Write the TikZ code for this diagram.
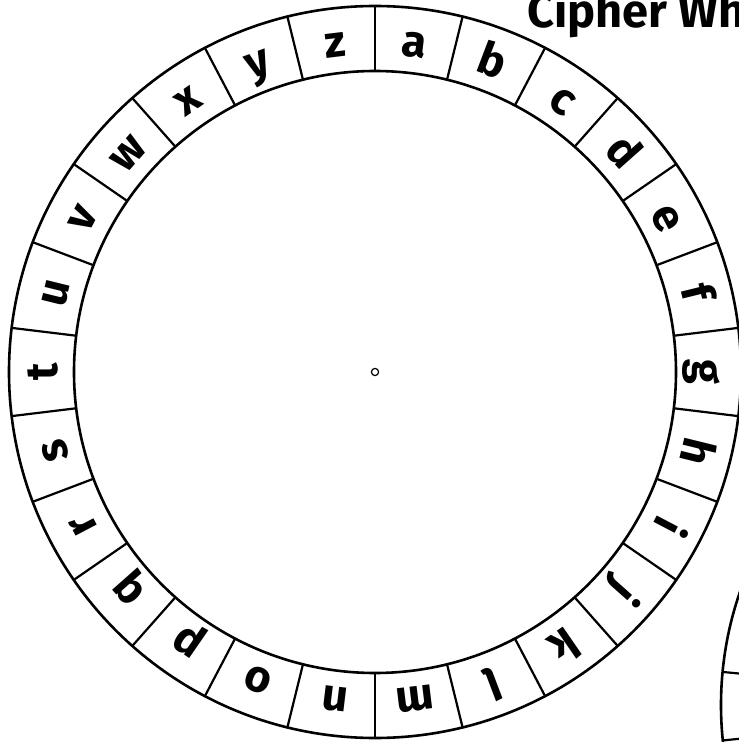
\documentclass[tikz,border=0pt]{standalone}
\usepackage{fontspec}
\setmainfont{Fira Sans}
\usetikzlibrary{positioning}
\tikzset{
    every node/.style={font=\bfseries},
    rim/.style={draw=black,line width=2.6pt},
    spoke/.style={draw=black,line width=2.2pt},
    letter/.style={font=\fontsize{45}{45}\selectfont\bfseries,inner sep=0pt,anchor=base},
    headline/.style={font=\fontsize{47}{47}\selectfont\bfseries,inner sep=0pt,anchor=base west}
}

\begin{document}
\begin{tikzpicture}[x=1pt,y=1pt]
\useasboundingbox (-375,-370) rectangle (364,372);
\clip (-375,-370) rectangle (364,372);
% outer wheel
\coordinate (hub) at (0,0);
\draw[rim] (hub) circle (366);
\draw[rim] (hub) circle (301);
\draw[line width=1.2pt] (hub) circle (3.6);
\foreach \k in {0,...,25}{
    \draw[spoke] ({90-\k*360/26}:301) -- ({90-\k*360/26}:366);
}
\foreach \ch [count=\k from 0] in {a,b,c,d,e,f,g,h,i,j,k,l,m,n,o,p,q,r,s,t,u,v,w,x,y,z}{
    \node[letter,rotate={-(\k+0.5)*360/26}] (ltr\k) at ({90-(\k+0.5)*360/26}:317) {\ch};
}
% title
\node[headline] (title) at (152,344) {Cipher Wheel};
% second wheel, only its edge shows
\coordinate (hub2) at (691,-333);
\draw[rim] (hub2) circle (345);
\draw[spoke] (hub2) ++(174.5:345) -- ++(-5.5:40);
\draw[spoke] (hub2) ++(185.9:345) -- ++(5.9:40);
\end{tikzpicture}
\end{document}
